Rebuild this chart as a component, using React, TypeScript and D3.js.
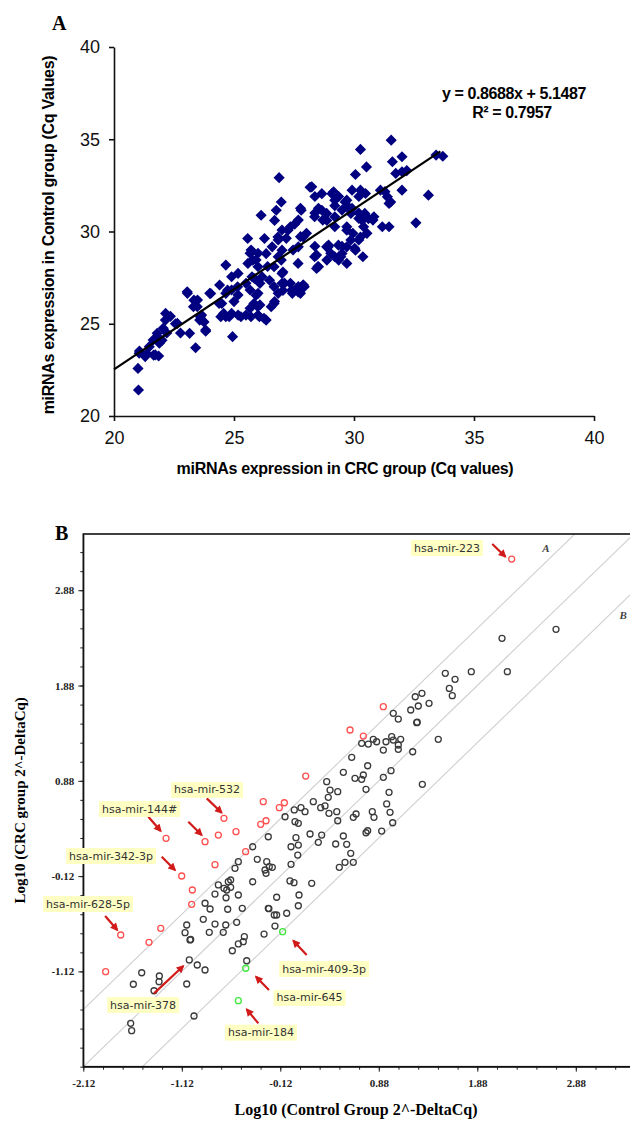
import React, { useEffect, useRef } from "react";
import * as d3 from "d3";

// ---- panel A: Cq values, CRC group (x) vs control group (y)
const cqPairs: [number, number][] = [
  [21.02, 21.41], [21.0, 22.58], [21.06, 23.52], [21.37, 23.39], [21.65, 23.3], [21.86, 23.25],
  [21.8, 24.3], [22.0, 24.1], [22.2, 24.5], [22.15, 25.56], [22.35, 25.4], [22.56, 25.0],
  [22.77, 24.5], [23.4, 23.7], [23.05, 26.73], [23.33, 26.28], [23.47, 25.92], [23.6, 25.38],
  [23.75, 25.1], [23.82, 24.6], [24.03, 26.64], [24.38, 26.1], [24.45, 25.38], [24.66, 28.18],
  [24.73, 26.82], [24.8, 25.38], [24.94, 24.3], [25.0, 26.2], [25.15, 27.0], [25.29, 25.38],
  [25.57, 29.62], [25.71, 29.0], [25.78, 28.45], [25.85, 27.45], [25.92, 26.55], [25.99, 25.92],
  [25.71, 25.38], [26.06, 25.38], [26.13, 30.88], [26.27, 29.62], [26.34, 28.8], [26.4, 28.1],
  [26.48, 27.36], [26.34, 25.2], [26.55, 25.92], [26.69, 30.6], [26.76, 31.15], [26.97, 31.6],
  [26.88, 32.92], [26.83, 29.7], [26.97, 28.45], [27.04, 27.8], [27.1, 27.2], [26.69, 26.2],
  [27.04, 26.8], [27.25, 30.07], [27.53, 30.4], [27.46, 29.0], [27.67, 28.27], [27.8, 31.15],
  [27.88, 29.7], [27.4, 26.82], [27.67, 26.73], [27.88, 27.1], [28.17, 32.4], [28.37, 31.9],
  [28.37, 29.2], [28.5, 28.1], [28.66, 32.05], [28.66, 31.15], [28.87, 30.6], [28.94, 29.26],
  [29.08, 32.05], [29.2, 31.4], [29.5, 29.2], [29.36, 28.45], [29.77, 31.33], [29.7, 30.07],
  [31.55, 34.95], [30.27, 34.45], [33.42, 34.14], [33.7, 34.08], [31.6, 33.78], [32.0, 34.05],
  [30.52, 33.5], [31.74, 33.15], [32.0, 33.24], [32.2, 33.3], [30.06, 33.09], [28.24, 32.42],
  [29.15, 32.15], [29.92, 32.24], [30.27, 32.24], [30.48, 32.06], [31.1, 32.24], [31.39, 31.88],
  [31.53, 31.6], [32.0, 32.24], [33.1, 31.97], [32.58, 30.47], [28.37, 31.0], [29.2, 31.7],
  [29.63, 31.6], [29.5, 31.16], [29.92, 31.25], [30.2, 31.0], [30.34, 30.6], [30.6, 30.7],
  [30.83, 30.8], [30.4, 30.26], [30.27, 29.7], [31.18, 30.26], [31.46, 30.26], [29.2, 30.26],
  [28.93, 29.17], [29.35, 29.26], [29.7, 29.17], [30.06, 28.99], [29.2, 28.63], [29.5, 28.81],
  [28.44, 28.72], [28.87, 28.45], [28.44, 28.0], [27.89, 27.1],
  [31.29, 32.16], [31.46, 31.52], [29.36, 31.9], [29.7, 31.7], [28.52, 31.26], [28.86, 30.98],
  [28.36, 30.8], [28.7, 30.62], [29.2, 30.8], [27.77, 31.26], [27.68, 30.62], [27.35, 30.26],
  [27.0, 30.08], [27.18, 29.63], [28.02, 29.9], [27.77, 29.72], [27.68, 29.17], [28.36, 28.63],
  [28.52, 28.09], [28.86, 29.17], [29.03, 28.82], [29.87, 29.54], [30.03, 29.09], [30.37, 28.63],
  [29.7, 28.27], [29.45, 28.63], [29.95, 29.9], [29.7, 30.26], [30.2, 30.71], [30.45, 30.98],
  [30.79, 30.62], [30.54, 29.9], [30.2, 29.54], [29.7, 31.35], [29.87, 30.98], [30.2, 31.9],
  [25.67, 28.82], [26.0, 28.82], [25.92, 28.46], [25.58, 28.27], [26.0, 28.09], [25.75, 27.55],
  [26.17, 27.55], [25.5, 27.19], [26.08, 27.19], [25.67, 26.83], [26.0, 26.65], [25.83, 26.1],
  [26.08, 26.02], [25.67, 25.84], [26.25, 25.3], [26.0, 25.47], [25.5, 25.47], [25.17, 25.47],
  [24.66, 25.38], [24.9, 25.56], [25.17, 26.56], [24.9, 26.83], [24.66, 26.65], [24.4, 27.1],
  [24.9, 27.55], [25.17, 27.73], [26.67, 27.01], [27.0, 27.19], [26.84, 26.65], [26.67, 26.1],
  [27.35, 27.19], [27.0, 27.73], [26.67, 28.09], [26.84, 28.63], [26.59, 29.17], [27.0, 28.99],
  [26.84, 29.54], [27.68, 27.01], [27.77, 26.65], [27.43, 26.65], [27.93, 27.01],
  [22.14, 25.2], [22.64, 25.02], [22.05, 24.75], [21.8, 24.48], [21.63, 24.12], [21.89, 23.94],
  [21.47, 23.76], [21.05, 23.4], [21.3, 23.22], [21.72, 23.31], [23.15, 24.48], [23.06, 26.65],
  [23.48, 26.29], [23.31, 25.92], [23.65, 25.47], [23.57, 25.2], [23.82, 24.66], [23.99, 26.65],
  [24.49, 26.1], [24.57, 25.56],
];
const fitSlope = 0.8688;
const fitIntercept = 5.1487;
const fitR2 = 0.7957;
const fitRange = [20, 33.6];
const cqTicks = [20, 25, 30, 35, 40];

// ---- panel B: log10 2^-DeltaCq, control (x) vs CRC (y)
const unchangedMirs: [number, number][] = [
  [2.679, 2.47], [2.131, 2.375], [2.185, 2.025], [1.819, 2.025], [1.555, 2.008], [1.654, 1.945],
  [1.596, 1.85], [1.626, 1.773], [1.25, 1.762], [1.318, 1.798], [1.39, 1.693], [1.281, 1.665],
  [1.204, 1.623], [1.265, 1.49], [1.27, 1.495], [1.027, 1.588], [1.078, 1.528], [1.484, 1.315],
  [0.824, 1.315], [0.706, 1.273], [0.773, 1.266], [0.858, 1.29], [0.953, 1.29], [1.011, 1.343],
  [1.027, 1.308], [1.102, 1.315], [1.078, 1.256], [1.078, 1.21], [0.926, 1.203], [1.224, 1.185],
  [0.605, 1.127], [0.767, 1.038], [0.52, 0.969], [0.723, 0.941], [1.004, 0.986], [0.926, 0.917],
  [0.638, 0.906], [0.706, 0.896],
  [0.75, 0.791], [0.984, 0.759], [1.322, 0.843], [0.385, 0.783], [0.463, 0.766], [0.453, 0.556],
  [0.463, 0.461], [0.649, 0.532], [0.621, 0.497], [0.814, 0.556], [0.831, 0.497], [0.96, 0.637],
  [0.994, 0.549], [1.021, 0.44], [0.52, 0.301], [0.554, 0.214], [0.595, 0.119], [0.621, 0.025],
  [0.537, 0.025], [0.479, -0.028], [0.75, 0.335], [0.767, 0.356], [0.909, 0.353],
  [0.351, 0.871], [0.367, 0.707], [0.215, 0.661], [0.29, 0.598], [0.334, 0.616], [0.374, 0.539],
  [0.09, 0.598], [0.131, 0.556], [0.022, 0.574], [-0.072, 0.503], [0.029, 0.451], [0.063, 0.434],
  [0.182, 0.322], [0.3, 0.311], [0.266, 0.235], [0.442, 0.217], [-0.242, 0.293], [-0.4, 0.188],
  [0.039, 0.283], [-0.011, 0.188], [0.063, 0.206], [0.057, 0.101], [-0.354, 0.056], [-0.258, 0.031],
  [-0.232, -0.021], [-0.201, -0.028], [-0.275, -0.056], [-0.265, -0.091], [-0.011, 0.004],
  [-0.546, 0.031], [-0.58, -0.038], [-0.624, -0.161], [-0.4, -0.179], [-0.022, -0.171],
  [0.019, -0.189], [0.199, -0.196],
  [-0.749, -0.213], [-0.692, -0.248], [-0.648, -0.179], [-0.624, -0.238], [-0.664, -0.266],
  [-0.783, -0.308], [-0.671, -0.347], [-0.884, -0.405], [-0.833, -0.465], [-0.654, -0.468],
  [-0.506, -0.458], [-0.242, -0.458], [-0.157, -0.528], [-0.902, -0.573], [-0.783, -0.623],
  [-0.674, -0.633], [-0.563, -0.605], [-1.07, -0.633], [-0.841, -0.71], [-0.699, -0.71],
  [-1.087, -0.714], [-1.037, -0.79], [-1.03, -0.785], [-0.485, -0.756], [-0.285, -0.728],
  [-0.174, -0.644], [-0.496, -0.808], [-0.546, -0.832], [-0.607, -0.903], [-0.461, -1.008],
  [-1.044, -1.0], [-0.963, -1.053], [-0.884, -1.105], [-1.527, -1.134], [-1.348, -1.168],
  [-0.157, -0.342], [0.07, -0.318], [0.063, -0.431], [-0.055, -0.51], [-0.236, -0.462],
  [-0.181, -0.528], [-0.546, -0.318],
  [-1.351, -1.228], [-1.612, -1.255], [-1.402, -1.323], [-1.07, -1.252], [-0.996, -1.588],
  [-1.639, -1.665], [-1.629, -1.742],
];
const upMirs: [number, number][] = [
  [2.229, 3.207], [0.926, 1.658], [0.588, 1.413], [0.723, 1.35], [0.138, 0.93], [-0.293, 0.661],
  [-0.13, 0.598], [-0.079, 0.65], [-0.319, 0.423], [-0.265, 0.461], [-0.57, 0.346], [-0.472, 0.136],
  [-0.692, 0.486], [-0.749, 0.311], [-0.884, 0.241], [-1.28, 0.277], [-0.783, 0.0], [-1.121, -0.119],
  [-1.013, -0.266], [-1.02, -0.416], [-1.334, -0.668], [-1.453, -0.815], [-1.74, -0.738],
  [-1.893, -1.123],
];
const downMirs: [number, number][] = [[-0.096, -0.703], [-0.471, -1.087], [-0.546, -1.427]];
const logTicksX = [-2.12, -1.12, -0.12, 0.88, 1.88, 2.88];
const logTicksY = [-1.12, -0.12, 0.88, 1.88, 2.88];
const foldOffsets = [0.6, 0, -0.6];
const foldLabels = [
  { text: "A", x: 2.576, y: 3.323 },
  { text: "B", x: 3.36, y: 2.62 },
];
const mirLabels = [
  { name: "hsa-mir-223", x: 1.572, y: 3.323, arrows: [[2.032, 3.365, 2.165, 3.232]] },
  { name: "hsa-mir-532", x: -0.864, y: 0.784, arrows: [[-0.867, 0.696, -0.715, 0.545]] },
  { name: "hsa-mir-144#", x: -1.549, y: 0.584, arrows: [[-1.46, 0.503, -1.334, 0.353], [-1.054, 0.451, -0.918, 0.311]] },
  { name: "hsa-mir-342-3p", x: -1.839, y: 0.091, arrows: [[-1.324, 0.084, -1.189, -0.056]] },
  { name: "hsa-mir-628-5p", x: -2.072, y: -0.413, arrows: [[-1.898, -0.539, -1.775, -0.686]] },
  { name: "hsa-mir-378", x: -1.513, y: -1.473, arrows: [[-1.402, -1.35, -1.105, -1.063]] },
  { name: "hsa-mir-409-3p", x: 0.325, y: -1.095, arrows: [[0.148, -0.948, 0.012, -0.798]] },
  { name: "hsa-mir-645", x: 0.177, y: -1.399, arrows: [[-0.235, -1.315, -0.367, -1.176]] },
  { name: "hsa-mir-184", x: -0.316, y: -1.763, arrows: [[-0.343, -1.665, -0.461, -1.518]] },
];

const SANS = "'Liberation Sans', Arial, sans-serif";
const SERIF = "'Liberation Serif', 'Times New Roman', serif";

function drawA(svg: any) {
  const x = d3.scaleLinear().domain([20, 40]).range([114, 594]);
  const y = d3.scaleLinear().domain([20, 40]).range([416, 47]);
  const g = svg.append("g");

  const xAxis = g.append("g").attr("transform", "translate(0,416)")
    .call(d3.axisBottom(x).tickValues(cqTicks).tickSize(5).tickSizeOuter(0).tickPadding(10));
  const yAxis = g.append("g").attr("transform", "translate(114,0)")
    .call(d3.axisLeft(y).tickValues(cqTicks).tickSize(5).tickSizeOuter(0).tickPadding(9));
  [xAxis, yAxis].forEach((a) => {
    a.selectAll("path,line").attr("stroke", "#111").attr("stroke-width", 1.6);
    a.selectAll("text").attr("font-family", SANS).attr("font-size", 18).attr("fill", "#111");
  });

  const diamond = d3.symbol().type(d3.symbolSquare).size(62);
  g.append("g").selectAll("path").data(cqPairs).enter().append("path")
    .attr("d", diamond)
    .attr("transform", (d: number[]) => `translate(${x(d[0])},${y(d[1])}) rotate(45)`)
    .attr("fill", "#000080");

  const fit = d3.line<number>().x((v) => x(v)).y((v) => y(fitSlope * v + fitIntercept));
  g.append("path").attr("d", fit(fitRange)).attr("stroke", "#000").attr("stroke-width", 2.2).attr("fill", "none");

  g.append("text").attr("x", 514).attr("y", 99).attr("text-anchor", "middle")
    .attr("font-family", SANS).attr("font-weight", "bold").attr("font-size", 16).attr("letter-spacing", -0.4)
    .text(`y = ${fitSlope}x + ${fitIntercept}`);
  g.append("text").attr("x", 512).attr("y", 118).attr("text-anchor", "middle")
    .attr("font-family", SANS).attr("font-weight", "bold").attr("font-size", 16).attr("letter-spacing", -0.4)
    .text(`R² = ${fitR2}`);

  g.append("text").attr("x", 345).attr("y", 474).attr("text-anchor", "middle")
    .attr("font-family", SANS).attr("font-weight", "bold").attr("font-size", 16).attr("letter-spacing", -0.3)
    .text("miRNAs expression in CRC group (Cq values)");
  g.append("text").attr("transform", "translate(54,235) rotate(-90)").attr("text-anchor", "middle")
    .attr("font-family", SANS).attr("font-weight", "bold").attr("font-size", 16).attr("letter-spacing", -0.3)
    .text("miRNAs expression in Control group (Cq Values)");
  g.append("text").attr("x", 52).attr("y", 30)
    .attr("font-family", SERIF).attr("font-weight", "bold").attr("font-size", 20).text("A");
}

function drawB(svg: any) {
  const x = d3.scaleLinear().domain([-2.12, 3.55]).range([83.3, 641.8]);
  const y = d3.scaleLinear().domain([-2.12, 3.47]).range([1066.7, 534]);
  const g = svg.append("g");
  const [x0, x1] = x.domain();
  const [y0, y1] = y.domain();

  g.append("clipPath").attr("id", "plotB").append("rect")
    .attr("x", x(x0)).attr("y", y(y1)).attr("width", x(x1) - x(x0)).attr("height", y(y0) - y(y1));

  const fold = d3.line<number[]>().x((d) => x(d[0])).y((d) => y(d[1]));
  g.append("g").attr("clip-path", "url(#plotB)").selectAll("path").data(foldOffsets).enter().append("path")
    .attr("d", (o: number) => fold([[x0 - 1, x0 - 1 + o], [x1 + 1, x1 + 1 + o]]))
    .attr("stroke", "#cfcfcf").attr("stroke-width", 1.1).attr("fill", "none");

  g.selectAll("text.fold").data(foldLabels).enter().append("text").attr("class", "fold")
    .attr("x", (d: any) => x(d.x)).attr("y", (d: any) => y(d.y)).attr("text-anchor", "middle")
    .attr("dominant-baseline", "central")
    .attr("font-family", SERIF).attr("font-style", "italic").attr("font-weight", "bold")
    .attr("font-size", 11).attr("fill", "#444").text((d: any) => d.text);

  const minor = d3.range(x0, 3.5, 0.2);
  g.append("g").attr("transform", `translate(0,${y(y0)})`)
    .call(d3.axisBottom(x).tickValues(minor).tickSize(3).tickSizeOuter(0).tickFormat(() => ""))
    .selectAll("path,line").attr("stroke", "#222");
  g.append("g").attr("transform", `translate(${x(x0)},0)`)
    .call(d3.axisLeft(y).tickValues(d3.range(y0, 3.4, 0.2)).tickSize(3).tickSizeOuter(0).tickFormat(() => ""))
    .selectAll("path,line").attr("stroke", "#222");

  const xAxis = g.append("g").attr("transform", `translate(0,${y(y0)})`)
    .call(d3.axisBottom(x).tickValues(logTicksX).tickSize(5).tickSizeOuter(0).tickPadding(8)
      .tickFormat((d: any) => d.toFixed(2)));
  const yAxis = g.append("g").attr("transform", `translate(${x(x0)},0)`)
    .call(d3.axisLeft(y).tickValues(logTicksY).tickSize(5).tickSizeOuter(0).tickPadding(4)
      .tickFormat((d: any) => d.toFixed(2)));
  [xAxis, yAxis].forEach((a) => {
    a.selectAll("path").attr("stroke", "none");
    a.selectAll("line").attr("stroke", "#222");
    a.selectAll("text").attr("font-family", SERIF).attr("font-weight", "bold")
      .attr("font-size", 11).attr("fill", "#222");
  });

  g.append("rect").attr("x", x(x0)).attr("y", y(y1)).attr("width", x(x1) - x(x0)).attr("height", y(y0) - y(y1))
    .attr("fill", "none").attr("stroke", "#111").attr("stroke-width", 1.6);

  const dots = (data: [number, number][], color: string) =>
    g.append("g").selectAll("circle").data(data).enter().append("circle")
      .attr("cx", (d: number[]) => x(d[0])).attr("cy", (d: number[]) => y(d[1])).attr("r", 3)
      .attr("fill", "none").attr("stroke", color).attr("stroke-width", 1.3);
  dots(unchangedMirs, "#3a3a3a");
  dots(upMirs, "#ff4f4f");
  dots(downMirs, "#3ee83e");

  const defs = svg.append("defs");
  defs.append("marker").attr("id", "redHead").attr("viewBox", "0 0 10 10")
    .attr("refX", 8).attr("refY", 5).attr("markerUnits", "userSpaceOnUse")
    .attr("markerWidth", 9).attr("markerHeight", 8).attr("orient", "auto")
    .append("path").attr("d", "M0,0L10,5L0,10z").attr("fill", "#d11a1a");

  mirLabels.forEach((m) => {
    const lg = g.append("g");
    m.arrows.forEach((a) => {
      lg.append("line").attr("x1", x(a[0])).attr("y1", y(a[1])).attr("x2", x(a[2])).attr("y2", y(a[3]))
        .attr("stroke", "#d11a1a").attr("stroke-width", 2.2).attr("marker-end", "url(#redHead)");
    });
    const t = lg.append("text").attr("x", x(m.x)).attr("y", y(m.y)).attr("text-anchor", "middle")
      .attr("dominant-baseline", "central").attr("font-family", "'DejaVu Sans', Verdana, sans-serif")
      .attr("font-size", 11).attr("fill", "#333").text(m.name);
    const bb = (t.node() as SVGTextElement).getBBox();
    lg.insert("rect", "text").attr("x", bb.x - 3).attr("y", bb.y - 1.5)
      .attr("width", bb.width + 6).attr("height", bb.height + 3).attr("fill", "#ffffc4");
  });

  g.append("text").attr("transform", `translate(25,${(y(y0) + y(y1)) / 2}) rotate(-90)`).attr("text-anchor", "middle")
    .attr("font-family", SERIF).attr("font-weight", "bold").attr("font-size", 15)
    .text("Log10 (CRC group 2^-DeltaCq)");
  g.append("text").attr("x", 356).attr("y", 1115).attr("text-anchor", "middle")
    .attr("font-family", SERIF).attr("font-weight", "bold").attr("font-size", 16)
    .text("Log10 (Control Group 2^-DeltaCq)");
  g.append("text").attr("x", 55).attr("y", 540)
    .attr("font-family", SERIF).attr("font-weight", "bold").attr("font-size", 20).text("B");
}

export default function App() {
  const ref = useRef<SVGSVGElement>(null);
  useEffect(() => {
    const svg = d3.select(ref.current);
    svg.selectAll("*").remove();
    drawA(svg);
    drawB(svg);
  }, []);
  return (
    <>
      <style>{"body{margin:0}"}</style>
      <svg ref={ref} width={630} height={1121} style={{ display: "block", background: "#fff" }} />
    </>
  );
}
